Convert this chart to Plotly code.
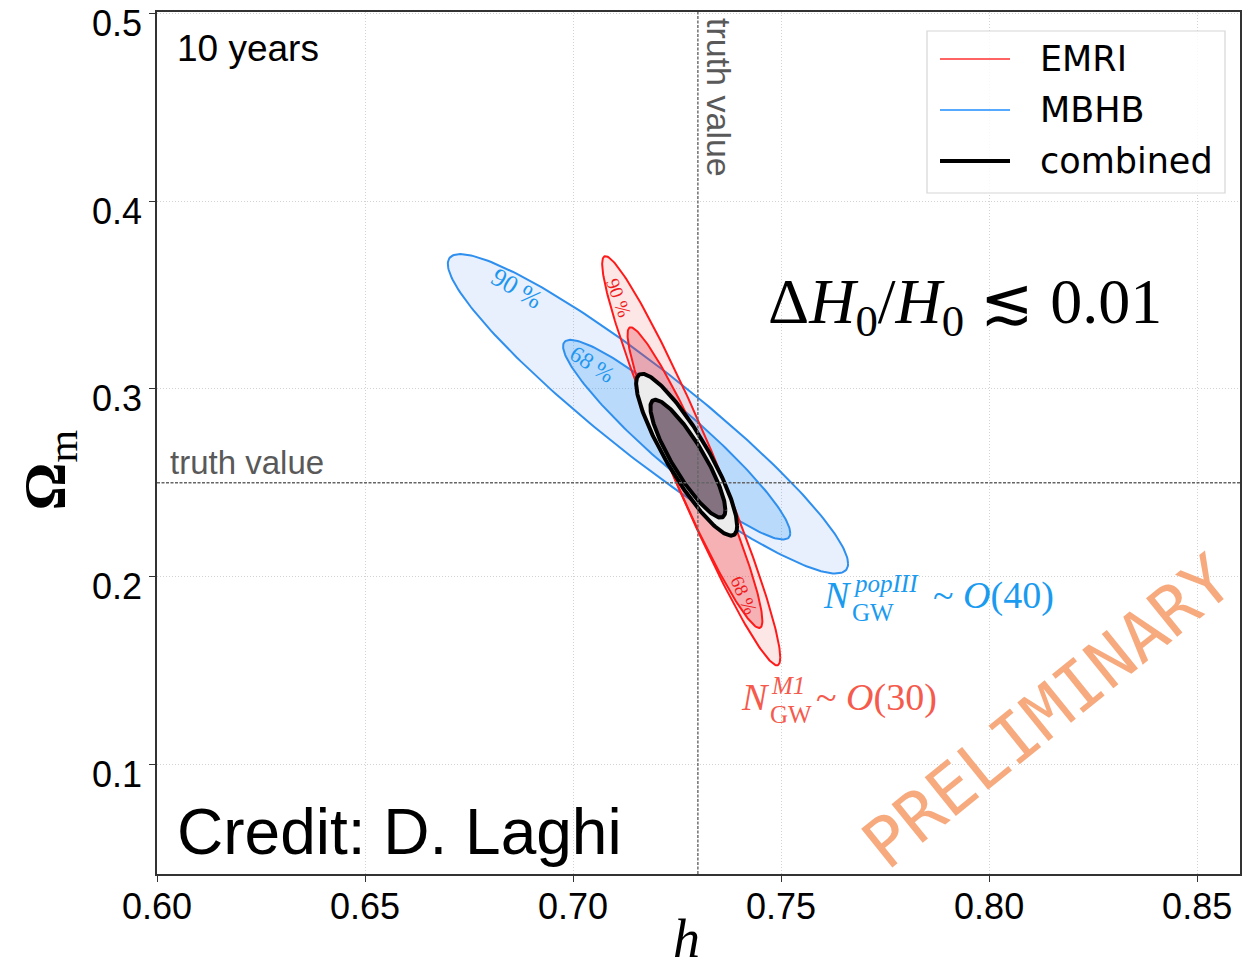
import numpy as np
import plotly.graph_objects as go

# Cosmological parameter constraints (h, Omega_m) after 10 years of observation.
# Each confidence contour: centre, half-extent in h and Omega_m, and correlation.
TRUTH_H = 0.73
TRUTH_OM = 0.25

mbhb_centre = {"90": (0.7180, 0.2867), "68": (0.7249, 0.2729)}
mbhb_extent = {"90": (0.0481, 0.0851), "68": (0.0273, 0.0532)}
mbhb_corr = {"90": -0.938, "68": -0.935}

emri_centre = {"90": (0.7284, 0.2617), "68": (0.7293, 0.2527)}
emri_extent = {"90": (0.0214, 0.1090), "68": (0.0162, 0.0801)}
emri_corr = {"90": -0.962, "68": -0.952}

comb_centre = {"90": (0.7273, 0.2649), "68": (0.7276, 0.2628)}
comb_extent = {"90": (0.01214, 0.0431), "68": (0.00901, 0.0314)}
comb_corr = {"90": -0.880, "68": -0.870}

x_ticks = [0.60, 0.65, 0.70, 0.75, 0.80, 0.85]
y_ticks = [0.1, 0.2, 0.3, 0.4, 0.5]

legend_names = ["EMRI", "MBHB", "combined"]

X_RANGE = [0.60, 0.8603]
Y_RANGE = [0.0415, 0.5008]


def ellipse(centre, extent, rho, n=240):
    """Boundary of a correlated Gaussian contour with given half-extents."""
    t = np.linspace(0, 2 * np.pi, n)
    cx, cy = centre
    sx, sy = extent
    x = cx + sx * np.cos(t)
    y = cy + sy * (rho * np.cos(t) + np.sqrt(1 - rho ** 2) * np.sin(t))
    return x, y


fig = go.Figure()

BLUE = "#2f8fee"
RED = "#ff1a1a"


def add_contour(centre, extent, rho, fill, line, width):
    x, y = ellipse(centre, extent, rho)
    fig.add_trace(go.Scatter(
        x=x, y=y, mode="lines", fill="toself", fillcolor=fill,
        line=dict(color=line, width=width), hoverinfo="skip", showlegend=False,
    ))


add_contour(mbhb_centre["90"], mbhb_extent["90"], mbhb_corr["90"], "rgba(40,120,230,0.11)", BLUE, 2)
add_contour(mbhb_centre["68"], mbhb_extent["68"], mbhb_corr["68"], "rgba(50,150,250,0.25)", BLUE, 2)
add_contour(emri_centre["90"], emri_extent["90"], emri_corr["90"], "rgba(240,60,60,0.13)", RED, 2)
add_contour(emri_centre["68"], emri_extent["68"], emri_corr["68"], "rgba(230,40,50,0.28)", RED, 2)
add_contour(comb_centre["90"], comb_extent["90"], comb_corr["90"], "#ececec", "black", 4)
add_contour(comb_centre["68"], comb_extent["68"], comb_corr["68"], "#857280", "black", 4)

SANS = "Liberation Sans, Arial, sans-serif"
SERIF = "Liberation Serif, Times New Roman, serif"
GRID = "#d2d2d2"

# truth lines
fig.add_shape(type="line", xref="x", yref="paper", x0=TRUTH_H, x1=TRUTH_H, y0=0, y1=1,
              line=dict(color="#666666", width=1.4, dash="3px,1.5px"), layer="above")
fig.add_shape(type="line", xref="paper", yref="y", x0=0, x1=1, y0=TRUTH_OM, y1=TRUTH_OM,
              line=dict(color="#666666", width=1.4, dash="3px,1.5px"), layer="above")

ann = []
ann.append(dict(x=0.6026, y=TRUTH_OM, xref="x", yref="y", xanchor="left", yanchor="bottom",
                text="truth value", showarrow=False,
                font=dict(family=SANS, size=33, color="#595959")))
ann.append(dict(x=0.7352, y=0.5008, xref="x", yref="y", xanchor="center", yanchor="top",
                yshift=-4, text="truth value", textangle=90, showarrow=False,
                font=dict(family=SANS, size=34, color="#595959")))

# contour level labels
ann.append(dict(x=0.6865, y=0.3537, text="90 %", textangle=31, showarrow=False,
                font=dict(family=SERIF, size=26, color="#1f96ee")))
ann.append(dict(x=0.7046, y=0.3128, text="68 %", textangle=33, showarrow=False,
                font=dict(family=SERIF, size=23, color="#1f96ee")))
ann.append(dict(x=0.7111, y=0.3484, text="90 %", textangle=70, showarrow=False,
                font=dict(family=SERIF, size=19, color="#ee1c1c")))
ann.append(dict(x=0.7411, y=0.1899, text="68 %", textangle=66, showarrow=False,
                font=dict(family=SERIF, size=19, color="#ee1c1c")))

# population labels: N with stacked super/subscripts, then the order of magnitude
NB = "#1a9bf0"
NR = "#f55a4c"
for col, nx, ny, sup, tail, tx in [
    (NB, 0.7599, 0.1899, "popIII", "~ <i>O</i>(40)", 0.7862),
    (NR, 0.7401, 0.1356, "M1", "~ <i>O</i>(30)", 0.7582),
]:
    f_big = dict(family=SERIF, size=38, color=col)
    f_small = dict(family=SERIF, size=25, color=col)
    ann.append(dict(x=nx, y=ny, xanchor="left", yanchor="middle", text="<i>N</i>",
                    showarrow=False, borderpad=0, font=f_big))
    ann.append(dict(x=nx + 0.0072, y=ny - 0.0012, xanchor="left", yanchor="bottom",
                    text=f"<i>{sup}</i>", showarrow=False, borderpad=0, font=f_small))
    ann.append(dict(x=nx + 0.0070, y=ny - 0.0012, xanchor="left", yanchor="top",
                    text="GW", showarrow=False, borderpad=0, font=f_small))
    ann.append(dict(x=tx, y=ny, xanchor="left", yanchor="middle", text=tail,
                    showarrow=False, borderpad=0, font=f_big))

ann.append(dict(x=0.7464, y=0.3441, xanchor="left", yanchor="middle",
                text="Δ<i>H</i><sub>0</sub>/<i>H</i><sub>0</sub> ≲ 0.01", showarrow=False,
                font=dict(family=SERIF, size=64, color="black")))

ann.append(dict(x=0.8140, y=0.1282, text="PRELIMINARY", textangle=-39, showarrow=False,
                font=dict(family="DejaVu Sans Mono, monospace", size=68, color="#f7aa7e")))

ann.append(dict(x=0.6043, y=0.4814, xanchor="left", yanchor="middle", text="10 years",
                showarrow=False, font=dict(family=SANS, size=37, color="black")))
ann.append(dict(x=0.6043, y=0.0640, xanchor="left", yanchor="middle", text="Credit: D. Laghi",
                showarrow=False, font=dict(family=SANS, size=64, color="black")))

# axis titles
ann.append(dict(x=0.4885, y=-0.112, xref="paper", yref="paper", text="<i>h</i>",
                showarrow=False, font=dict(family=SERIF, size=54, color="black")))
ann.append(dict(x=-0.1357, y=0.4687, xref="paper", yref="paper", textangle=-90,
                text="<b>Ω</b><sub>m</sub>", showarrow=False,
                font=dict(family=SERIF, size=60, color="black")))


# legend box, drawn in paper coordinates
def px_x(p):
    return (p - 157) / 1083


def px_y(p):
    return (874 - p) / 862


shapes_extra = [dict(type="rect", xref="paper", yref="paper",
                     x0=px_x(927), x1=px_x(1225), y0=px_y(193), y1=px_y(31),
                     line=dict(color="#d6d6d6", width=1.2), fillcolor="rgba(255,255,255,0.85)",
                     layer="above")]
leg_styles = [("#ff3030", 1.6), ("#55aaff", 2.0), ("black", 4)]
for i, (name, (c, w)) in enumerate(zip(legend_names, leg_styles)):
    yy = 59 + 51 * i
    shapes_extra.append(dict(type="line", xref="paper", yref="paper",
                             x0=px_x(940), x1=px_x(1010), y0=px_y(yy), y1=px_y(yy),
                             line=dict(color=c, width=w), layer="above"))
    ann.append(dict(x=px_x(1038), y=px_y(yy), xref="paper", yref="paper", xanchor="left",
                    yanchor="middle", text=name, showarrow=False,
                    font=dict(family="DejaVu Sans, sans-serif", size=35, color="black")))

for s in shapes_extra:
    fig.add_shape(**s)

for a in ann:
    a.setdefault("xref", "x")
    a.setdefault("yref", "y")
fig.update_layout(annotations=ann)

axis_common = dict(
    showgrid=True, gridcolor=GRID, griddash="1px,2px", gridwidth=1,
    showline=True, linecolor="#333333", linewidth=1.5, mirror=True,
    ticks="outside", ticklen=6, tickcolor="#333333", tickwidth=1.2,
    tickfont=dict(family=SANS, size=36, color="black"), zeroline=False,
    ticklabeloverflow="allow", automargin=False,
)
fig.update_xaxes(range=X_RANGE, tickvals=x_ticks, tickformat=".2f",
                 ticklabelstandoff=-6, **axis_common)
fig.update_yaxes(range=Y_RANGE, tickvals=y_ticks, tickformat=".1f",
                 ticklabelshift=10, **axis_common)

fig.update_layout(
    width=1243, height=968,
    margin=dict(l=157, r=3, t=12, b=94),
    plot_bgcolor="white", paper_bgcolor="white",
    showlegend=False,
)

fig.write_html("out.html")
